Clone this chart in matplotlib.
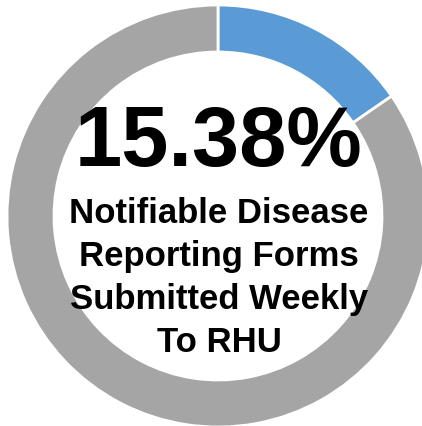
import matplotlib.pyplot as plt

plt.rcParams['font.family'] = ['Liberation Sans', 'DejaVu Sans']

labels = ['Submitted', 'Not submitted']
values = [15.38, 84.62]
colors = ['#5B9BD5', '#A5A5A5']
headline = '15.38%'
caption = 'Notifiable Disease\nReporting Forms\nSubmitted Weekly\nTo RHU'

fig = plt.figure(figsize=(4.22, 4.26), dpi=100)
ax = fig.add_axes([0, 0, 1, 1])

ax.pie(values, colors=colors, startangle=90, counterclock=False,
       center=(218, 210), radius=211, frame=True,
       wedgeprops=dict(width=47, edgecolor='white', linewidth=2))
ax.set_xlim(0, 422)
ax.set_ylim(0, 426)
ax.set_aspect('equal')
ax.axis('off')

ax.text(218, 282, headline, ha='center', va='center',
        fontsize=61, fontweight='bold', color='black')
ax.text(219, 148, caption, ha='center', va='center',
        fontsize=25, fontweight='bold', color='black', linespacing=1.38)

fig.savefig('out.png', dpi=100)
